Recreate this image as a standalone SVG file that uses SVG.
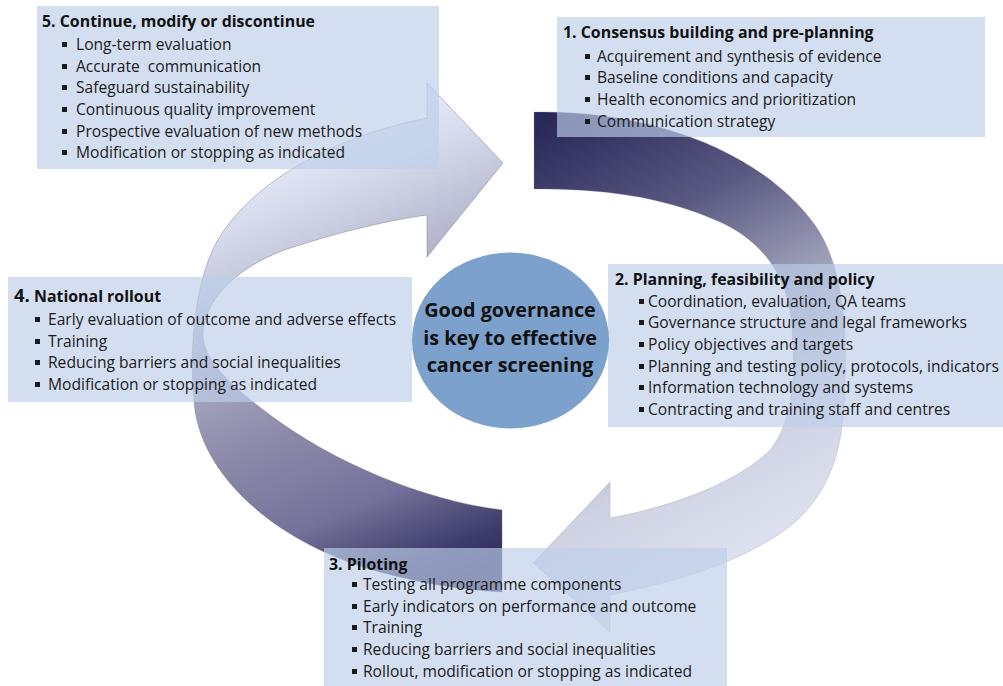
<svg xmlns="http://www.w3.org/2000/svg" width="1003" height="686" viewBox="0 0 1003 686">
<style>
.box{fill:#bccfe9;fill-opacity:0.66}
.h{font-family:"Open Sans","Noto Sans","DejaVu Sans",sans-serif;font-weight:bold;font-size:15.9px;fill:#111}
.t{font-family:"Open Sans","Noto Sans","DejaVu Sans",sans-serif;font-size:15.6px;fill:#1a1a1a}
.b{fill:#1a1a1a}
.c{font-family:"Open Sans","Noto Sans","DejaVu Sans",sans-serif;font-weight:bold;font-size:19.8px;fill:#111;text-anchor:middle}
</style>
<defs>
<linearGradient id="gA" gradientUnits="userSpaceOnUse" x1="534" y1="130" x2="760" y2="560">
<stop offset="0" stop-color="#2a2957"/>
<stop offset="0.28" stop-color="#5a5983"/>
<stop offset="0.5" stop-color="#9a9bb4"/>
<stop offset="0.75" stop-color="#cdd1e2"/>
<stop offset="1" stop-color="#dfe3f0"/>
</linearGradient>
<linearGradient id="gB" gradientUnits="userSpaceOnUse" x1="510" y1="560" x2="330" y2="140">
<stop offset="0" stop-color="#2f2c5c"/>
<stop offset="0.08" stop-color="#3e3c6a"/>
<stop offset="0.24" stop-color="#74729a"/>
<stop offset="0.47" stop-color="#8f8dab"/>
<stop offset="0.73" stop-color="#b8bbd0"/>
<stop offset="0.9" stop-color="#d5dbec"/>
<stop offset="1" stop-color="#e2e8f6"/>
</linearGradient>
</defs>
<rect width="1003" height="686" fill="#ffffff"/>
<g id="connectors">
<path id="arrow-1-3" fill="url(#gA)" stroke="#8a8aa0" stroke-opacity="0.35" stroke-width="0.8" d="M534,112 C650,110 760,150 815,225 C840,260 848,320 845,380 C845,450 830,505 770,540 C720,570 660,585 610,595 L610,632 L533,563 L610,482 L610,518 C680,505 740,480 770,450 C795,420 795,370 792,330 C790,285 770,245 720,222 C660,195 600,189 534,189 Z"/>
<path id="arrow-3-5" fill="url(#gB)" stroke="#6a6a80" stroke-opacity="0.5" stroke-width="0.8" d="M502,592 L502,510 C420,500 330,460 270,415 C230,385 203,360 203,335 C203,300 240,262 300,245 C340,232 390,220 427,215 L427,257 L503,163 L427,83 L427,118 C340,135 250,180 215,245 C195,285 188,350 195,410 C205,480 280,545 380,572 C420,583 460,590 502,592 Z"/>
</g>
<g id="node5">
<rect class="box" x="37" y="6" width="402" height="163"/>
<text class="h" x="42" y="27">5. Continue, modify or discontinue</text>
<rect class="b" x="62" y="42" width="5" height="5"/><text class="t" x="76" y="50">Long-term evaluation</text>
<rect class="b" x="62" y="64" width="5" height="5"/><text class="t" x="76" y="72" xml:space="preserve">Accurate  communication</text>
<rect class="b" x="62" y="85" width="5" height="5"/><text class="t" x="76" y="93">Safeguard sustainability</text>
<rect class="b" x="62" y="107" width="5" height="5"/><text class="t" x="76" y="115">Continuous quality improvement</text>
<rect class="b" x="62" y="129" width="5" height="5"/><text class="t" x="76" y="137">Prospective evaluation of new methods</text>
<rect class="b" x="62" y="150" width="5" height="5"/><text class="t" x="76" y="158">Modification or stopping as indicated</text>
</g>
<g id="node1">
<rect class="box" x="557" y="17" width="428" height="120"/>
<text class="h" x="563" y="38">1. Consensus building and pre-planning</text>
<rect class="b" x="585" y="54" width="5" height="5"/><text class="t" x="597" y="62">Acquirement and synthesis of evidence</text>
<rect class="b" x="585" y="75" width="5" height="5"/><text class="t" x="597" y="83">Baseline conditions and capacity</text>
<rect class="b" x="585" y="97" width="5" height="5"/><text class="t" x="597" y="105">Health economics and prioritization</text>
<rect class="b" x="585" y="119" width="5" height="5"/><text class="t" x="597" y="127">Communication strategy</text>
</g>
<g id="node2">
<rect class="box" x="608" y="264" width="395" height="163"/>
<text class="h" x="615" y="285">2. Planning, feasibility and policy</text>
<rect class="b" x="639" y="299" width="5" height="5"/><text class="t" x="648" y="307">Coordination, evaluation, QA teams</text>
<rect class="b" x="639" y="320" width="5" height="5"/><text class="t" x="648" y="328">Governance structure and legal frameworks</text>
<rect class="b" x="639" y="342" width="5" height="5"/><text class="t" x="648" y="350">Policy objectives and targets</text>
<rect class="b" x="639" y="364" width="5" height="5"/><text class="t" x="648" y="372">Planning and testing policy, protocols, indicators</text>
<rect class="b" x="639" y="385" width="5" height="5"/><text class="t" x="648" y="393">Information technology and systems</text>
<rect class="b" x="639" y="407" width="5" height="5"/><text class="t" x="648" y="415">Contracting and training staff and centres</text>
</g>
<g id="node4">
<rect class="box" x="8" y="277" width="404" height="125"/>
<text class="h" x="14" y="302"><tspan font-size="18.5px">4.</tspan> National rollout</text>
<rect class="b" x="35" y="317" width="5" height="5"/><text class="t" x="48" y="325">Early evaluation of outcome and adverse effects</text>
<rect class="b" x="35" y="339" width="5" height="5"/><text class="t" x="48" y="347">Training</text>
<rect class="b" x="35" y="360" width="5" height="5"/><text class="t" x="48" y="368">Reducing barriers and social inequalities</text>
<rect class="b" x="35" y="382" width="5" height="5"/><text class="t" x="48" y="390">Modification or stopping as indicated</text>
</g>
<g id="node3">
<rect class="box" x="324" y="548" width="403" height="138"/>
<text class="h" x="329" y="570">3. Piloting</text>
<rect class="b" x="352" y="582" width="5" height="5"/><text class="t" x="363" y="590">Testing all programme components</text>
<rect class="b" x="352" y="604" width="5" height="5"/><text class="t" x="363" y="612">Early indicators on performance and outcome</text>
<rect class="b" x="352" y="625" width="5" height="5"/><text class="t" x="363" y="633">Training</text>
<rect class="b" x="352" y="647" width="5" height="5"/><text class="t" x="363" y="655">Reducing barriers and social inequalities</text>
<rect class="b" x="352" y="669" width="5" height="5"/><text class="t" x="363" y="677">Rollout, modification or stopping as indicated</text>
</g>
<g id="center">
<ellipse cx="510.5" cy="340.5" rx="98.5" ry="88" fill="#7ba1cc"/>
<text class="c" x="510" y="317">Good governance</text>
<text class="c" x="510" y="345">is key to effective</text>
<text class="c" x="510" y="372">cancer screening</text>
</g>
</svg>
